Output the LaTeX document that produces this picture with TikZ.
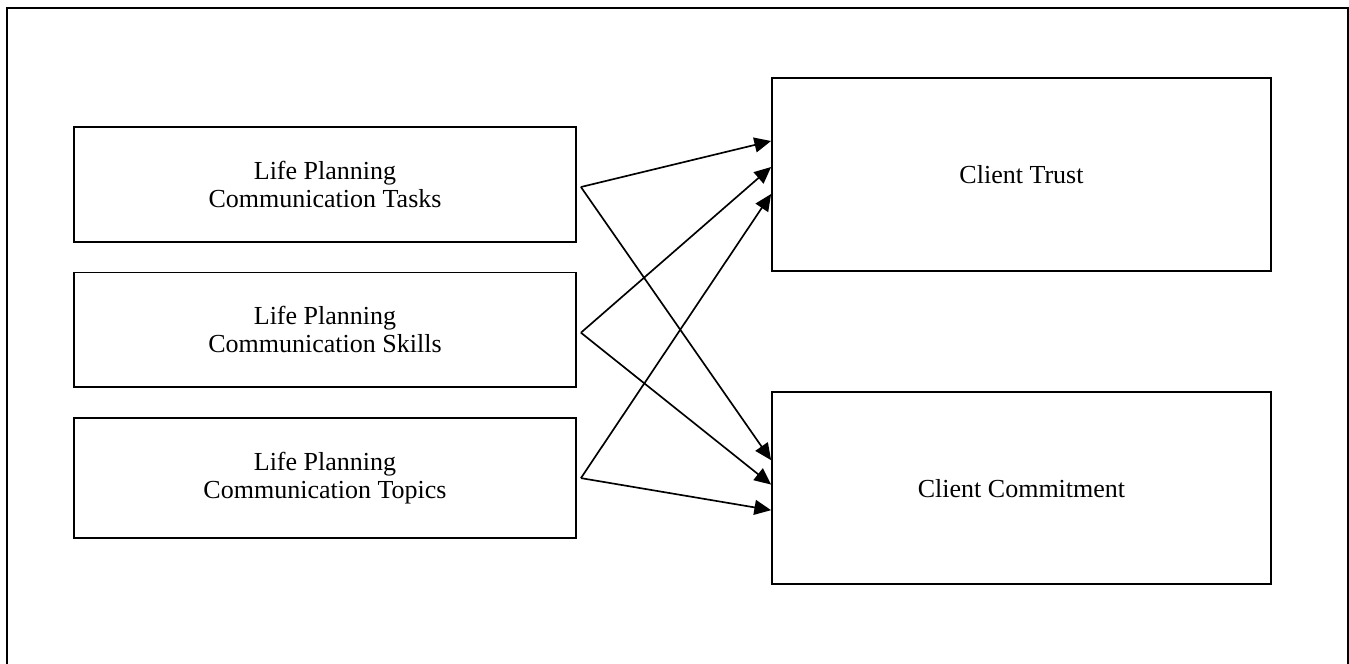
\documentclass[tikz,border=0pt]{standalone}
\usepackage{fontspec}
\setmainfont{Liberation Serif}
\usetikzlibrary{arrows.meta,positioning}

\begin{document}
\begin{tikzpicture}[x=0.02cm,y=-0.02cm,>={Triangle[length=9.5pt,width=8.5pt]}]

	\tikzstyle{rect}=[
		rectangle,
		line width=1.1pt,
		draw=black,
		fill=white,
		align=center,
		inner sep=0pt,
		font=\fontsize{14.8}{16}\selectfont
	]
	\tikzstyle{post}=[->, line width=0.95pt]

	\useasboundingbox (0,0) rectangle (1349,663);
	\draw[line width=1.4pt] (7,700) -- (7,8) -- (1348,8) -- (1348,700);

	\node [rect, minimum width=10.04cm, minimum height=2.29cm] (Tasks) at (325,184.3) {Life Planning\\Communication Tasks};
	\node [rect, minimum width=10.04cm, minimum height=2.29cm] (Skills) [below=0.58cm of Tasks] {Life Planning\\Communication Skills};
	\node [rect, minimum width=10.04cm, minimum height=2.39cm] (Topics) [below=0.59cm of Skills] {Life Planning\\Communication Topics};

	\node [rect, minimum width=9.98cm, minimum height=3.85cm] (Trust) at (1021.5,174.3) {Client Trust};
	\node [rect, minimum width=9.98cm, minimum height=3.83cm] (Commit) [below=2.4cm of Trust] {Client Commitment};

	\coordinate (t1) at ([shift={(4,2.7)}]Tasks.east);
	\coordinate (s1) at ([shift={(4,3)}]Skills.east);
	\coordinate (p1) at ([shift={(4,0)}]Topics.east);

	\draw[post] (t1)--([shift={(0,-33.3)}]Trust.west);
	\draw[post] (t1)--([shift={(0,-28)}]Commit.west);

	\draw[post] (s1)--([shift={(0,-7.3)}]Trust.west);
	\draw[post] (s1)--([shift={(0,-3.6)}]Commit.west);

	\draw[post] (p1)--([shift={(0,19.7)}]Trust.west);
	\draw[post] (p1)--([shift={(0,22)}]Commit.west);

\end{tikzpicture}
\end{document}
